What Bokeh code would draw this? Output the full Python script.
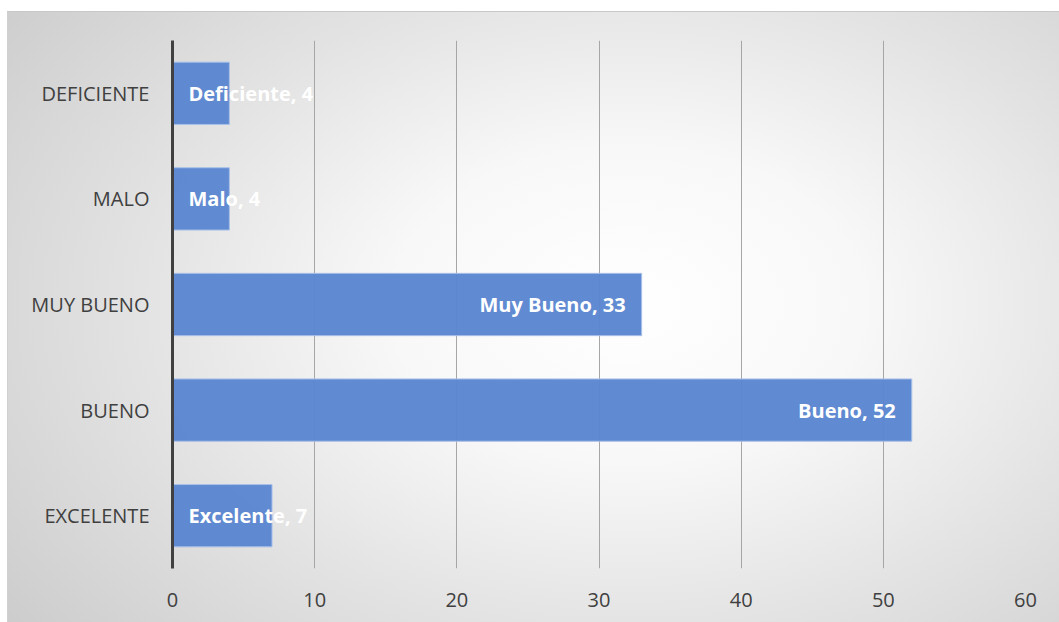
from bokeh.plotting import figure
from bokeh.models import ColumnDataSource, FactorRange, Range1d, FixedTicker
from bokeh.embed import file_html
from bokeh.resources import INLINE
from bokeh.core.properties import value

categories = ["DEFICIENTE", "MALO", "MUY BUENO", "BUENO", "EXCELENTE"]
names = ["Deficiente", "Malo", "Muy Bueno", "Bueno", "Excelente"]
values = [4, 4, 33, 52, 7]
x_ticks = [0, 10, 20, 30, 40, 50, 60]

labels = [f"{n}, {v}" for n, v in zip(names, values)]
src = ColumnDataSource(dict(cat=categories, val=values, lab=labels))
long_idx = [i for i, v in enumerate(values) if v > 20]
short_idx = [i for i, v in enumerate(values) if v <= 20]
src_long = ColumnDataSource(dict(cat=[categories[i] for i in long_idx],
                                 val=[values[i] for i in long_idx],
                                 lab=[labels[i] for i in long_idx]))
src_short = ColumnDataSource(dict(cat=[categories[i] for i in short_idx],
                                  zero=[0 for i in short_idx],
                                  lab=[labels[i] for i in short_idx]))

p = figure(width=1052, height=611, output_backend="svg", toolbar_location=None,
           y_range=FactorRange(*list(reversed(categories)), range_padding=0),
           x_range=Range1d(0, 60),
           min_border_left=164, min_border_right=35, min_border_top=28, min_border_bottom=55,
           margin=(11, 0, 0, 7),
           background_fill_alpha=0, border_fill_alpha=0, outline_line_color=None,
           styles={"background": "radial-gradient(ellipse 80% 92% at 59% 48%, #ffffff 0%, #f8f8f8 28%, #e3e3e3 58%, #c8c8c8 100%)",
                   "border-top": "1px solid #c8c8c8", "border-left": "1px solid #d0d0d0"})

p.hbar(y="cat", right="val", left=0, height=0.59, source=src,
       fill_color="#5b86cf", fill_alpha=0.97, line_color="#a8c0e8", line_width=1)

p.text(x="val", y="cat", text="lab", source=src_long, x_offset=-16,
       text_align="right", text_baseline="middle", text_color="white",
       text_font=value("Open Sans"), text_font_style="bold", text_font_size="20px")
p.text(x="zero", y="cat", text="lab", source=src_short, x_offset=16,
       text_align="left", text_baseline="middle", text_color="white",
       text_font=value("Open Sans"), text_font_style="bold", text_font_size="20px")

p.xaxis.ticker = FixedTicker(ticks=x_ticks)
p.xaxis.axis_line_color = None
p.xaxis.major_tick_line_color = None
p.xaxis.minor_tick_line_color = None
p.xaxis.major_label_standoff = 18
p.xaxis.major_label_text_font = "Open Sans"
p.xaxis.major_label_text_font_size = "20px"
p.xaxis.major_label_text_color = "#404040"

p.yaxis.axis_line_color = "#404040"
p.yaxis.axis_line_width = 3
p.yaxis.major_tick_line_color = None
p.yaxis.minor_tick_line_color = None
p.yaxis.major_label_standoff = 17
p.yaxis.major_label_text_font = "Open Sans"
p.yaxis.major_label_text_font_size = "20px"
p.yaxis.major_label_text_color = "#404040"

p.xgrid.ticker = FixedTicker(ticks=x_ticks)
p.xgrid.grid_line_color = "#a6a6a6"
p.xgrid.grid_line_width = 1
p.ygrid.grid_line_color = None

open("out.html", "w").write(file_html(p, INLINE))
